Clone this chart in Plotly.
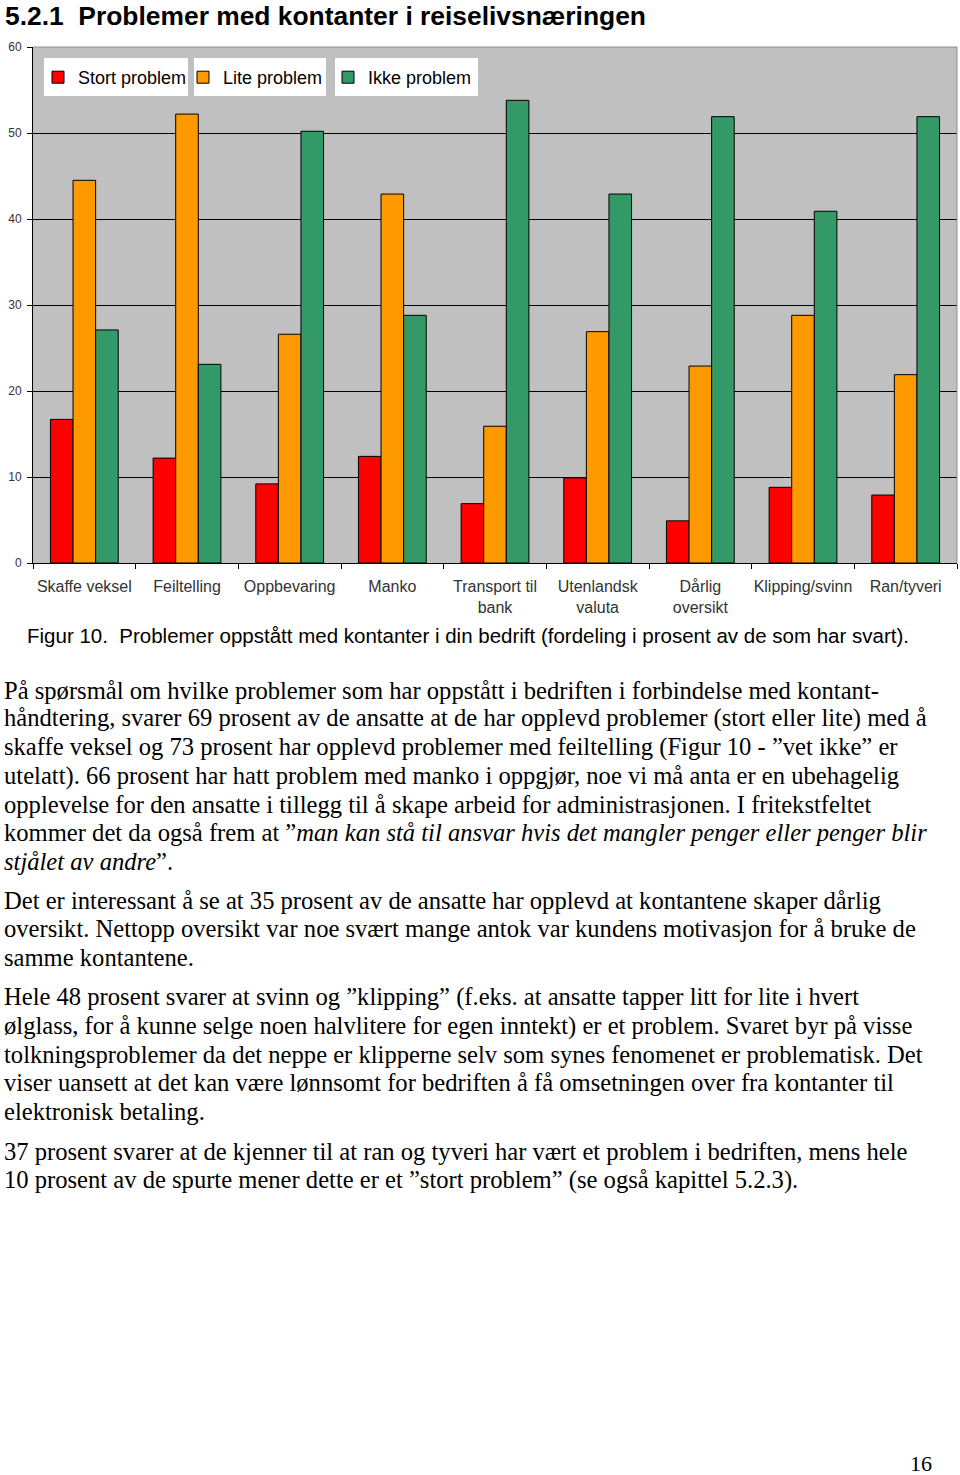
import plotly.graph_objects as go

W, H = 960, 1475
L, R, T, B = 33, 957, 47, 563  # plot area in pixels

categories = ["Skaffe veksel", "Feiltelling", "Oppbevaring", "Manko", "Transport til<br>bank",
              "Utenlandsk<br>valuta", "Dårlig<br>oversikt", "Klipping/svinn", "Ran/tyveri"]
stort = [16.7, 12.2, 9.2, 12.4, 6.9, 9.9, 4.9, 8.8, 7.9]
lite = [44.5, 52.2, 26.6, 42.9, 15.9, 26.9, 22.9, 28.8, 21.9]
ikke = [27.1, 23.1, 50.2, 28.8, 53.8, 42.9, 51.9, 40.9, 51.9]
series_names = ["Stort problem", "Lite problem", "Ikke problem"]
series_colors = ["#FF0000", "#FF9900", "#339966"]
y_ticks = [0, 10, 20, 30, 40, 50, 60]

heading = "5.2.1  Problemer med kontanter i reiselivsnæringen"
caption = "Figur 10.  Problemer oppstått med kontanter i din bedrift (fordeling i prosent av de som har svart)."
paragraphs = [
    ["På spørsmål om hvilke problemer som har oppstått i bedriften i forbindelse med kontant-",
     "håndtering, svarer 69 prosent av de ansatte at de har opplevd problemer (stort eller lite) med å",
     "skaffe veksel og 73 prosent har opplevd problemer med feiltelling (Figur 10 - ”vet ikke” er",
     "utelatt). 66 prosent har hatt problem med manko i oppgjør, noe vi må anta er en ubehagelig",
     "opplevelse for den ansatte i tillegg til å skape arbeid for administrasjonen. I fritekstfeltet",
     "kommer det da også frem at ”<i>man kan stå til ansvar hvis det mangler penger eller penger blir</i>",
     "<i>stjålet av andre</i>”."],
    ["Det er interessant å se at 35 prosent av de ansatte har opplevd at kontantene skaper dårlig",
     "oversikt. Nettopp oversikt var noe svært mange antok var kundens motivasjon for å bruke de",
     "samme kontantene."],
    ["Hele 48 prosent svarer at svinn og ”klipping” (f.eks. at ansatte tapper litt for lite i hvert",
     "ølglass, for å kunne selge noen halvlitere for egen inntekt) er et problem. Svaret byr på visse",
     "tolkningsproblemer da det neppe er klipperne selv som synes fenomenet er problematisk. Det",
     "viser uansett at det kan være lønnsomt for bedriften å få omsetningen over fra kontanter til",
     "elektronisk betaling."],
    ["37 prosent svarer at de kjenner til at ran og tyveri har vært et problem i bedriften, mens hele",
     "10 prosent av de spurte mener dette er et ”stort problem” (se også kapittel 5.2.3)."],
]
paragraph_tops = [690, 900, 997, 1151]
page_number = "16"


def px(x):
    return (x - L) / (R - L)


def py(y):
    return (B - y) / (B - T)


fig = go.Figure()
for name, vals, col in zip(series_names, [stort, lite, ikke], series_colors):
    fig.add_trace(go.Bar(x=categories, y=vals, name=name,
                         marker=dict(color=col, line=dict(color="#000000", width=1))))

shapes = []
# white legend boxes
for x0, x1 in [(44, 188), (194, 326), (335, 478)]:
    shapes.append(dict(type="rect", xref="paper", yref="paper", x0=px(x0), x1=px(x1),
                       y0=py(96), y1=py(58), fillcolor="white", line=dict(width=0), layer="above"))
# grey top and right border
shapes.append(dict(type="line", xref="paper", yref="paper", x0=0, x1=1, y0=1, y1=1,
                   line=dict(color="#909090", width=1), layer="above"))
shapes.append(dict(type="line", xref="paper", yref="paper", x0=1, x1=1, y0=0, y1=1,
                   line=dict(color="#909090", width=1), layer="above"))

annotations = []
annotations.append(dict(text="<b>" + heading + "</b>", xref="paper", yref="paper",
                        x=px(3), y=py(16), xanchor="left", yanchor="middle", showarrow=False,
                        font=dict(family="Liberation Sans, Arial", size=26.4, color="#000")))
annotations.append(dict(text=caption, xref="paper", yref="paper",
                        x=px(25), y=py(635), xanchor="left", yanchor="middle", showarrow=False,
                        font=dict(family="Liberation Sans, Arial", size=20.5, color="#000")))
line_h = 28.5
for top, lines in zip(paragraph_tops, paragraphs):
    for i, ln in enumerate(lines):
        annotations.append(dict(text=ln, xref="paper", yref="paper",
                                x=px(2), y=py(top + i * line_h), xanchor="left", yanchor="middle",
                                showarrow=False,
                                font=dict(family="Liberation Serif, Times New Roman", size=24.6, color="#000")))
annotations.append(dict(text=page_number, xref="paper", yref="paper",
                        x=px(934), y=py(1463), xanchor="right", yanchor="middle", showarrow=False,
                        font=dict(family="Liberation Serif, Times New Roman", size=22, color="#000")))

fig.update_layout(
    width=W, height=H,
    margin=dict(l=L, r=W - R, t=T, b=H - B, pad=0),
    paper_bgcolor="white", plot_bgcolor="#C0C0C0",
    barmode="group", bargap=0.34, bargroupgap=0,
    font=dict(family="Liberation Sans, Arial", color="#333"),
    showlegend=True,
    legend=dict(orientation="h", x=px(38), y=py(59), xanchor="left", yanchor="top",
                bgcolor="rgba(0,0,0,0)", font=dict(size=18, color="#000"),
                entrywidth=100, entrywidthmode="pixels", itemwidth=30,
                traceorder="normal"),
    xaxis=dict(type="category", tickson="boundaries", ticks="outside", ticklen=5,
               tickcolor="#000", showline=True, linecolor="#000", linewidth=1,
               showgrid=False, tickfont=dict(size=16, color="#333"), tickangle=0,
               ticklabelstandoff=9),
    yaxis=dict(range=[0, 60], tickvals=y_ticks, ticks="outside", ticklen=5, tickcolor="#000",
               showline=True, linecolor="#000", linewidth=1, showgrid=True,
               gridcolor="#000", gridwidth=1, zeroline=False,
               tickfont=dict(size=12, color="#333"), ticklabelstandoff=3),
    shapes=shapes, annotations=annotations,
)

fig.write_html("out.html", config={"displayModeBar": False},
               post_script="document.body.style.margin='0px';")
